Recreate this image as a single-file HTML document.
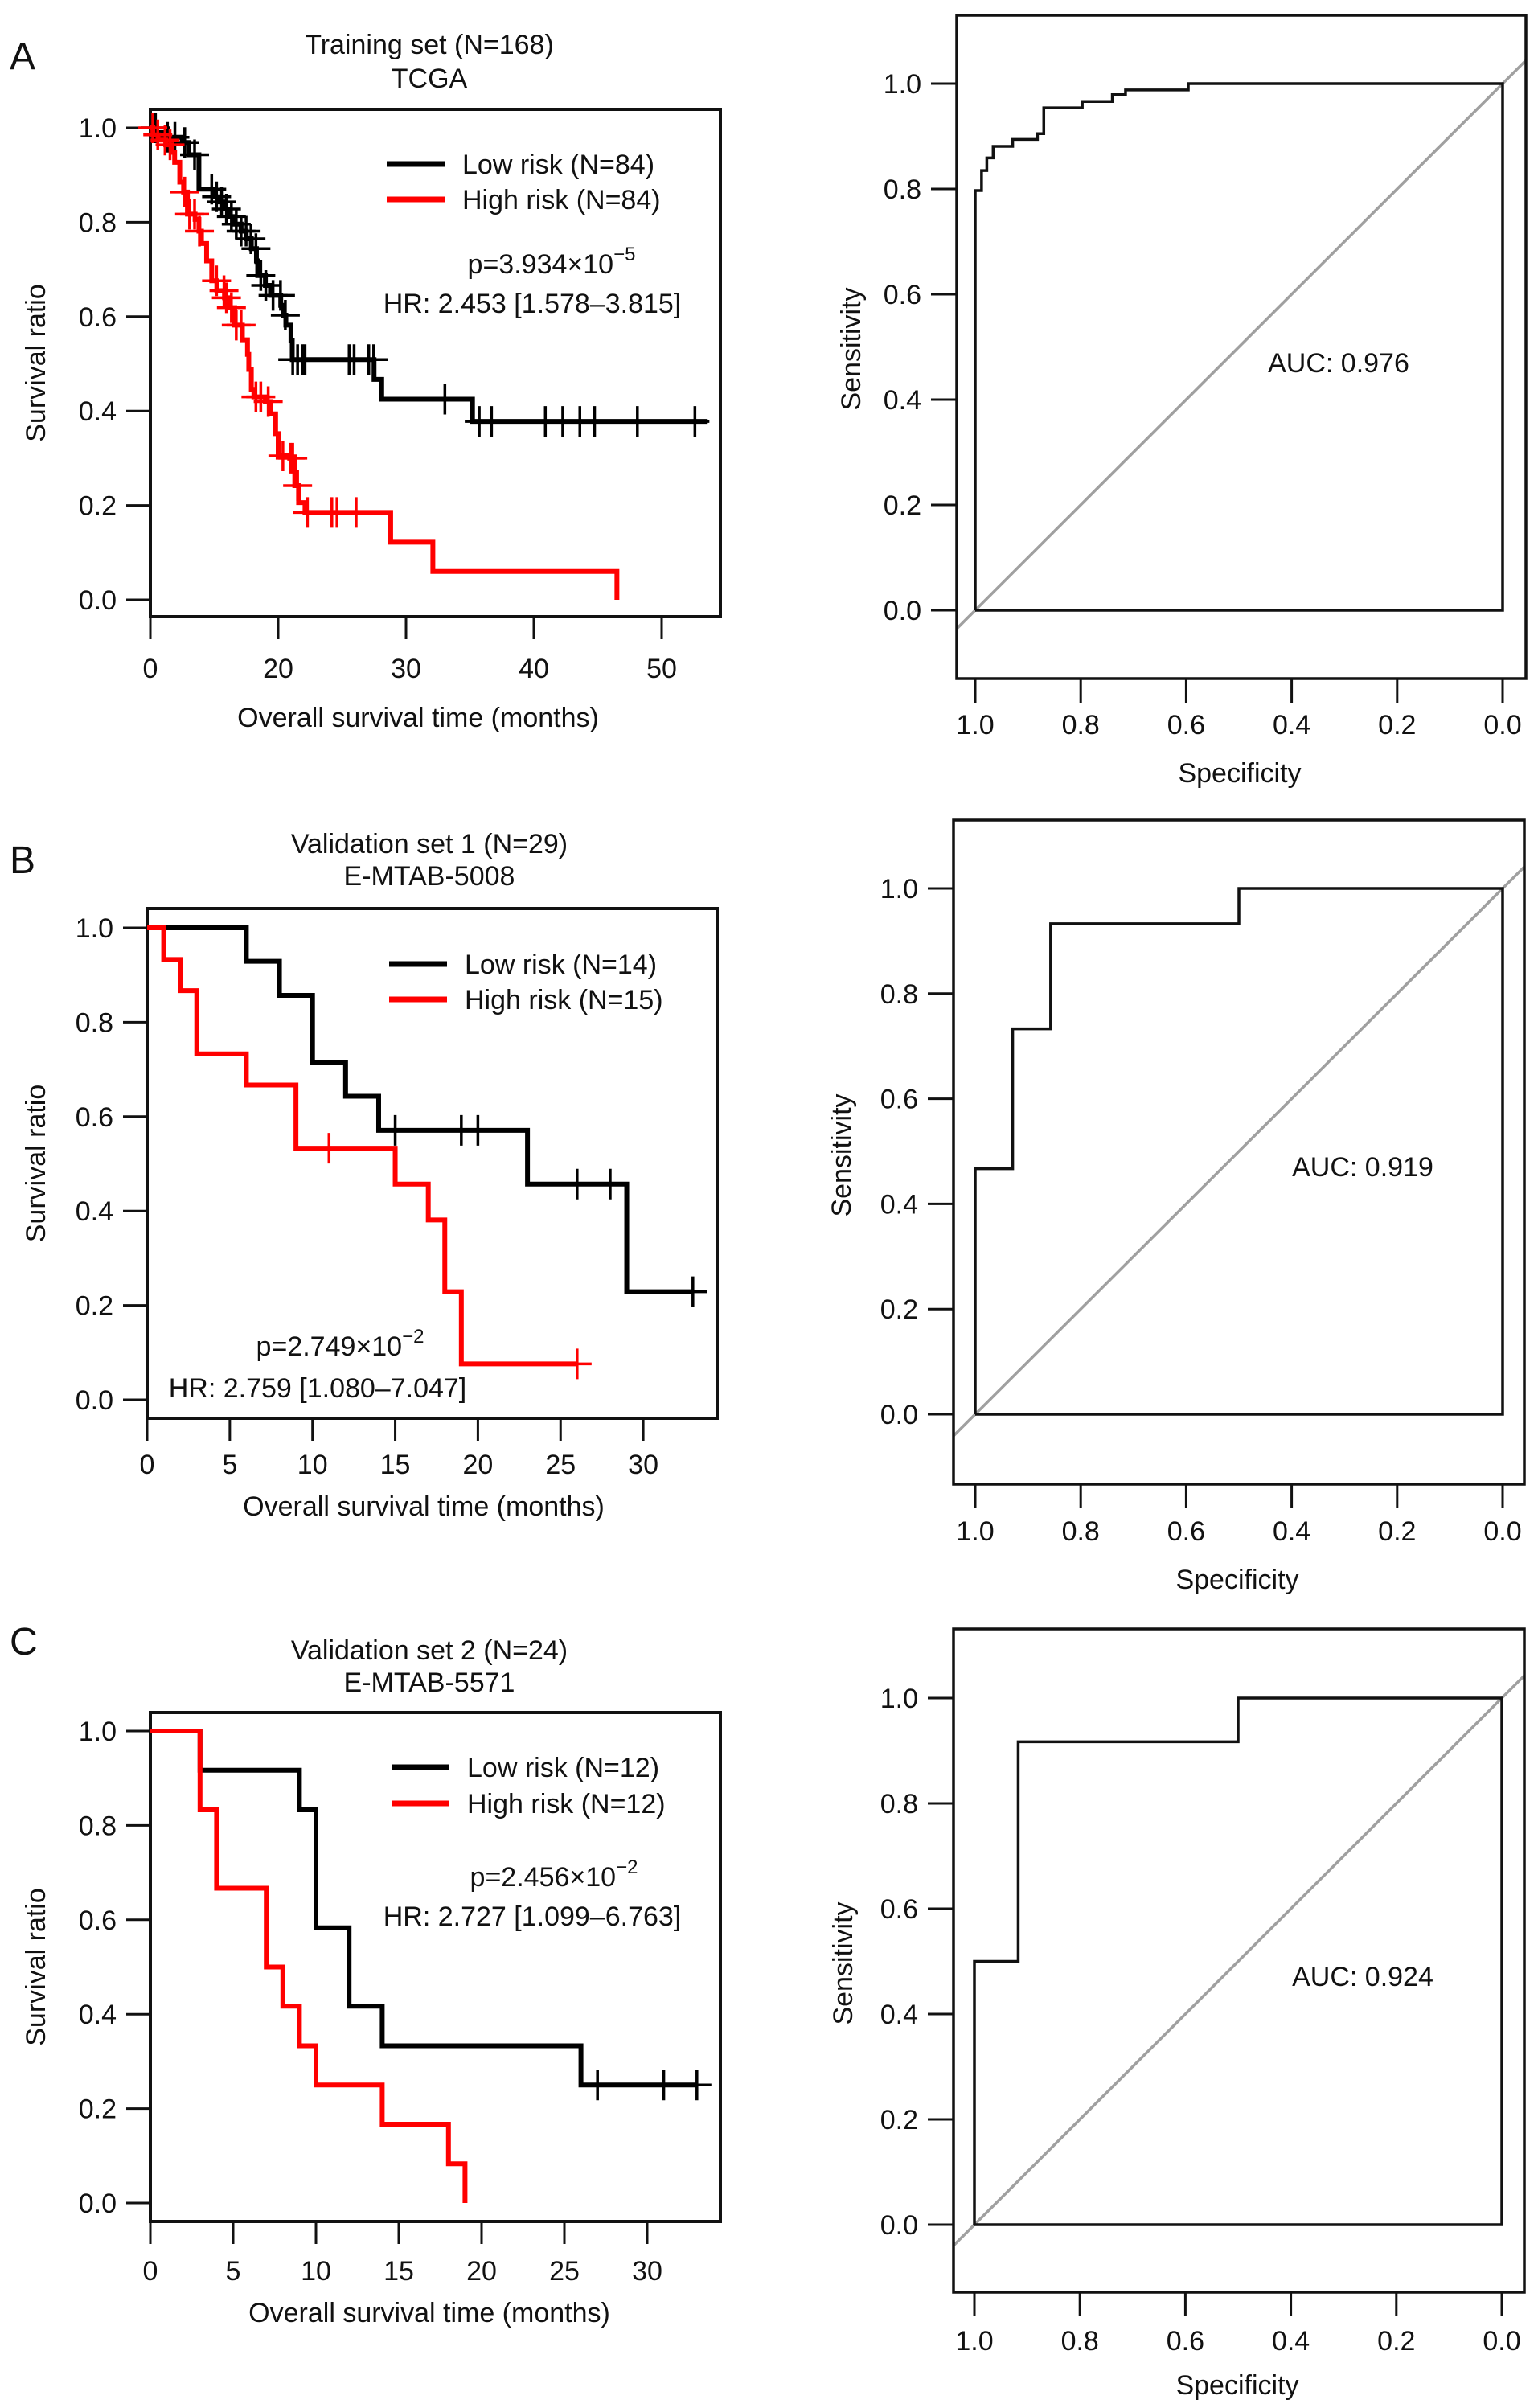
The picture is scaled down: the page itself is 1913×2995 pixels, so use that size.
<!DOCTYPE html>
<html><head><meta charset="utf-8"><style>
html,body{margin:0;padding:0;background:#fff;}
svg{display:block;font-family:"Liberation Sans",Arial,sans-serif;}
</style></head><body>
<svg id="fig" xmlns="http://www.w3.org/2000/svg" width="1913" height="2995" viewBox="0 0 1913 2995">
<rect x="0" y="0" width="1913" height="2995" fill="#fff"/>
</svg>
<script>
// ---------- Panel A KM data (time in months) ----------
const kmA_lowT=[0.5,1.2,2.5,3.0,3.8,5.0,5.4,5.8,6.2,6.5,7.1,7.5,7.9,8.3,8.4,9.0,9.4,10.2,10.4,10.6,11.0,11.1,17.5,18.1,25.2];
const kmA_lowS=[0.99,0.98,0.969,0.943,0.87,0.854,0.843,0.828,0.812,0.796,0.781,0.765,0.744,0.718,0.687,0.666,0.645,0.624,0.603,0.582,0.55,0.509,0.467,0.425,0.378];
const kmA_lowCens=[0.4,1.34,1.92,2.69,3.46,4.8,5.18,5.57,5.95,6.34,6.72,7.1,7.49,7.87,8.26,8.64,9.03,9.6,10.18,10.56,11.14,11.52,11.9,12.1,15.55,15.94,17.09,17.47,23.04,25.73,26.69,30.9,32.26,33.6,34.75,38.1,42.6];
const kmA_lowEnd=43.6;
const kmA_highT=[0.2,0.6,1.2,1.7,1.9,2.3,2.6,2.9,3.5,3.8,4.0,4.4,4.8,5.2,5.8,6.2,6.6,7.2,7.6,7.7,7.9,8.1,9.0,9.4,9.8,10.0,10.9,11.3,11.6,12.1,18.8,22.1,36.5];
const kmA_highS=[0.985,0.974,0.964,0.948,0.927,0.885,0.864,0.817,0.806,0.781,0.755,0.718,0.676,0.655,0.64,0.619,0.582,0.551,0.52,0.488,0.446,0.43,0.42,0.394,0.352,0.305,0.3,0.242,0.206,0.185,0.122,0.06,0];
const kmA_highCens=[0.19,0.58,1.15,1.54,2.69,3.07,3.46,3.84,5.18,5.76,5.95,6.34,6.72,7.1,8.26,8.64,9.22,10.37,10.94,11.14,11.52,12.29,14.2,14.6,16.1];
const kmA_highEnd=36.5;
const kmA_xTicks=[0,10,20,30,40];
const kmA_xLabels=["0","20","30","40","50"];
// ---------- Panel B KM ----------
const kmB_lowT=[6,8,10,12,14,23,29];
const kmB_lowS=[0.929,0.857,0.714,0.643,0.571,0.457,0.229];
const kmB_lowCens=[15,19,20,26,28,33];
const kmB_lowEnd=33;
const kmB_highT=[1,2,3,6,9,15,17,18,19];
const kmB_highS=[0.933,0.867,0.733,0.667,0.533,0.457,0.381,0.229,0.076];
const kmB_highCens=[11,26];
const kmB_highEnd=26;
// ---------- Panel C KM ----------
const kmC_lowT=[3,9,10,12,14,26];
const kmC_lowS=[0.917,0.833,0.583,0.417,0.333,0.25];
const kmC_lowCens=[27,31,33];
const kmC_lowEnd=33;
const kmC_highT=[3,4,7,8,9,10,14,18,19];
const kmC_highS=[0.833,0.667,0.5,0.417,0.333,0.25,0.167,0.083,0];
const kmC_highCens=[];
const kmC_highEnd=19;
const kmBC_xTicks=[0,5,10,15,20,25,30];
const kmBC_xLabels=["0","5","10","15","20","25","30"];
const km_yTicks=[0,0.2,0.4,0.6,0.8,1.0];
const km_yLabels=["0.0","0.2","0.4","0.6","0.8","1.0"];
// ---------- ROC data ----------
const rocA_spec=[1,0.988,0.978,0.966,0.929,0.882,0.870,0.797,0.740,0.715,0.596,0];
const rocA_sens=[0.797,0.835,0.859,0.881,0.894,0.905,0.954,0.966,0.979,0.988,1,1];
const rocB_spec=[1,0.929,0.857,0.5,0];
const rocB_sens=[0.467,0.733,0.933,1,1];
const rocC_spec=[1,0.917,0.5,0];
const rocC_sens=[0.5,0.917,1,1];
const roc_xTicks=[1,0.8,0.6,0.4,0.2,0];
const roc_xLabels=["1.0","0.8","0.6","0.4","0.2","0.0"];
const roc_yTicks=[0,0.2,0.4,0.6,0.8,1.0];
const roc_yLabels=["0.0","0.2","0.4","0.6","0.8","1.0"];

const NS="http://www.w3.org/2000/svg";
const svg=document.getElementById('fig');
function mk(tag,attrs,parent){const e=document.createElementNS(NS,tag);for(const k in attrs)e.setAttribute(k,attrs[k]);(parent||svg).appendChild(e);return e;}
function txt(s,x,y,size,anchor,parent){const t=mk('text',{x:x,y:y,'font-size':size,'text-anchor':anchor||'middle',fill:'#111'},parent);t.textContent=s;return t;}

function kmPanel(cfg){
  const g=mk('g',{});
  
  
  const xs=t=>cfg.x0+t*cfg.pxm;
  const ys=s=>cfg.y0-(cfg.y0-cfg.y1)*s;
  const box=mk('rect',{x:cfg.bx0,y:cfg.by0,width:cfg.bx1-cfg.bx0,height:cfg.by1-cfg.by0,fill:'none',stroke:'#111','stroke-width':4},g);
  
  
  cfg.yTicks.forEach((v,i)=>{
    const l=mk('line',{x1:cfg.bx0-30,x2:cfg.bx0,y1:ys(v),y2:ys(v),stroke:'#111','stroke-width':3},g);
    
    
    const t=txt(cfg.yLabels[i],cfg.bx0-42,ys(v)+12,34,'end',g);
    
    
  });
  cfg.xTicks.forEach((v,i)=>{
    const l=mk('line',{x1:xs(v),x2:xs(v),y1:cfg.by1,y2:cfg.by1+28,stroke:'#111','stroke-width':3},g);
    
    
    const t=txt(cfg.xLabels[i],xs(v),cfg.xlabY,34,'middle',g);
    
    
  });
  cfg.series.forEach(s=>{
    let d='M'+xs(0)+','+ys(1);let cur=1;
    s.t.forEach((t,i)=>{d+=' L'+xs(t)+','+ys(cur)+' L'+xs(t)+','+ys(s.s[i]);cur=s.s[i];});
    d+=' L'+xs(s.end)+','+ys(cur);
    const p=mk('path',{d:d,fill:'none',stroke:s.color,'stroke-width':6,'stroke-linejoin':'miter'},g);
    
    
    s.cens.forEach(c=>{
      let v=1;s.t.forEach((t,i)=>{if(t<=c)v=s.s[i];});
      const cx=xs(c),cy=ys(v);
      const m=mk('path',{d:'M'+(cx-18)+','+cy+' H'+(cx+18)+' M'+cx+','+(cy-19)+' V'+(cy+19),stroke:s.color,'stroke-width':3.5,fill:'none'},g);
      
      
    });
  });
  const lg=mk('g',{},g);
  
  
  cfg.legend.forEach(e=>{
    const l=mk('line',{x1:cfg.legX,x2:cfg.legX+72,y1:e.y,y2:e.y,stroke:e.color,'stroke-width':7},lg);
    
    
    const t=txt(e.label,cfg.legX+94,e.y+12,34,'start',lg);
    
    
  });
  const p=txt('',cfg.pX,cfg.pY,34,'middle',g);
  
  
  const ts1=mk('tspan',{},p);ts1.textContent=cfg.pText;
  const ts2=mk('tspan',{dy:-16,'font-size':24},p);ts2.textContent=cfg.pExp;
  const hr=txt(cfg.hrText,cfg.hrX,cfg.hrY,34,'middle',g);
  
  
  const t1=txt(cfg.title1,cfg.titleX,cfg.titleY1,34,'middle',g);
  
  
  const t2=txt(cfg.title2,cfg.titleX,cfg.titleY2,34,'middle',g);
  
  
  const xt=txt('Overall survival time (months)',cfg.xtX,cfg.xtY,34,'middle',g);
  
  
  const yt=txt('Survival ratio',0,0,34,'middle',g);
  yt.setAttribute('transform','translate(56,'+((cfg.by0+cfg.by1)/2)+') rotate(-90)');
  
  
  const pl=txt(cfg.letter,12,cfg.letterY,48,'start',g);
  
  
}

function rocPanel(cfg){
  const g=mk('g',{});
  
  
  const xs=sp=>cfg.x0+(cfg.x1-cfg.x0)*(1-sp);
  const ys=se=>cfg.y0-(cfg.y0-cfg.y1)*se;
  const cid='clip'+cfg.name;
  const cp=mk('clipPath',{id:cid},g);
  mk('rect',{x:cfg.bx0,y:cfg.by0,width:cfg.bx1-cfg.bx0,height:cfg.by1-cfg.by0},cp);
  const diag=mk('line',{x1:xs(1.1),y1:ys(-0.1),x2:xs(-0.1),y2:ys(1.1),stroke:'#a0a0a0','stroke-width':3.5,'clip-path':'url(#'+cid+')'},g);
  
  
  let d='M'+xs(1)+','+ys(0);
  cfg.spec.forEach((sp,i)=>{d+=' L'+xs(sp)+','+ys(cfg.sens[i]);if(i+1<cfg.spec.length)d+=' L'+xs(cfg.spec[i+1])+','+ys(cfg.sens[i]);});
  d+=' L'+xs(0)+','+ys(0)+' L'+xs(1)+','+ys(0);
  const c=mk('path',{d:d,fill:'none',stroke:'#111','stroke-width':3.5},g);
  
  
  const box=mk('rect',{x:cfg.bx0,y:cfg.by0,width:cfg.bx1-cfg.bx0,height:cfg.by1-cfg.by0,fill:'none',stroke:'#111','stroke-width':3.5},g);
  
  
  roc_yTicks.forEach((v,i)=>{
    const l=mk('line',{x1:cfg.bx0-32,x2:cfg.bx0,y1:ys(v),y2:ys(v),stroke:'#111','stroke-width':3},g);
    
    
    const t=txt(roc_yLabels[i],cfg.bx0-44,ys(v)+12,34,'end',g);
    
    
  });
  roc_xTicks.forEach((v,i)=>{
    const l=mk('line',{x1:xs(v),x2:xs(v),y1:cfg.by1,y2:cfg.by1+30,stroke:'#111','stroke-width':3},g);
    
    
    const t=txt(roc_xLabels[i],xs(v),cfg.xlabY,34,'middle',g);
    
    
  });
  const xt=txt('Specificity',(cfg.bx0+cfg.bx1)/2-2,cfg.xtY,34,'middle',g);
  
  
  const yt=txt('Sensitivity',0,0,34,'middle',g);
  yt.setAttribute('transform','translate('+(cfg.ytX)+','+cfg.ytY+') rotate(-90)');
  
  
  const a=txt(cfg.auc,cfg.aucX,cfg.aucY,34,'middle',g);
  
  
}

kmPanel({name:'km-panel-a',letter:'A',letterY:86,x0:187,pxm:15.9,y0:746,y1:159,bx0:187,bx1:896,by0:136,by1:767,
  xTicks:kmA_xTicks,xLabels:kmA_xLabels,yTicks:km_yTicks,yLabels:km_yLabels,xlabY:843,xtX:520,xtY:904,
  series:[{name:'low-risk',color:'#000',t:kmA_lowT,s:kmA_lowS,cens:kmA_lowCens,end:kmA_lowEnd},
          {name:'high-risk',color:'#ff0000',t:kmA_highT,s:kmA_highS,cens:kmA_highCens,end:kmA_highEnd}],
  legX:481,legend:[{y:204,color:'#000',label:'Low risk (N=84)'},{y:248,color:'#ff0000',label:'High risk (N=84)'}],
  pX:686,pY:340,pText:'p=3.934\u00d710',pExp:'\u22125',hrX:662,hrY:389,hrText:'HR: 2.453 [1.578\u20133.815]',
  titleX:534,titleY1:67,titleY2:109,title1:'Training set (N=168)',title2:'TCGA'});
kmPanel({name:'km-panel-b',letter:'B',letterY:1086,x0:183,pxm:20.57,y0:1741,y1:1154,bx0:183,bx1:892,by0:1130,by1:1764,
  xTicks:kmBC_xTicks,xLabels:kmBC_xLabels,yTicks:km_yTicks,yLabels:km_yLabels,xlabY:1833,xtX:527,xtY:1885,
  series:[{name:'low-risk',color:'#000',t:kmB_lowT,s:kmB_lowS,cens:kmB_lowCens,end:kmB_lowEnd},
          {name:'high-risk',color:'#ff0000',t:kmB_highT,s:kmB_highS,cens:kmB_highCens,end:kmB_highEnd}],
  legX:484,legend:[{y:1199,color:'#000',label:'Low risk (N=14)'},{y:1243,color:'#ff0000',label:'High risk (N=15)'}],
  pX:423,pY:1686,pText:'p=2.749\u00d710',pExp:'\u22122',hrX:395,hrY:1738,hrText:'HR: 2.759 [1.080\u20137.047]',
  titleX:534,titleY1:1061,titleY2:1101,title1:'Validation set 1 (N=29)',title2:'E-MTAB-5008'});
kmPanel({name:'km-panel-c',letter:'C',letterY:2058,x0:187,pxm:20.6,y0:2740,y1:2153,bx0:187,bx1:896,by0:2130,by1:2763,
  xTicks:kmBC_xTicks,xLabels:kmBC_xLabels,yTicks:km_yTicks,yLabels:km_yLabels,xlabY:2836,xtX:534,xtY:2888,
  series:[{name:'low-risk',color:'#000',t:kmC_lowT,s:kmC_lowS,cens:kmC_lowCens,end:kmC_lowEnd},
          {name:'high-risk',color:'#ff0000',t:kmC_highT,s:kmC_highS,cens:kmC_highCens,end:kmC_highEnd}],
  legX:487,legend:[{y:2198,color:'#000',label:'Low risk (N=12)'},{y:2243,color:'#ff0000',label:'High risk (N=12)'}],
  pX:689,pY:2346,pText:'p=2.456\u00d710',pExp:'\u22122',hrX:662,hrY:2395,hrText:'HR: 2.727 [1.099\u20136.763]',
  titleX:534,titleY1:2064,titleY2:2104,title1:'Validation set 2 (N=24)',title2:'E-MTAB-5571'});

rocPanel({name:'roc-panel-a',spec:rocA_spec,sens:rocA_sens,x0:1213,x1:1869,y0:759,y1:104,bx0:1190,bx1:1898,by0:19,by1:844,
  xlabY:913,xtY:973,ytX:1070,ytY:434,auc:'AUC: 0.976',aucX:1665,aucY:463});
rocPanel({name:'roc-panel-b',spec:rocB_spec,sens:rocB_sens,x0:1213,x1:1869,y0:1759,y1:1105,bx0:1186,bx1:1896,by0:1020,by1:1846,
  xlabY:1916,xtY:1976,ytX:1058,ytY:1437,auc:'AUC: 0.919',aucX:1695,aucY:1463});
rocPanel({name:'roc-panel-c',spec:rocC_spec,sens:rocC_sens,x0:1212,x1:1868,y0:2767,y1:2112,bx0:1186,bx1:1896,by0:2026,by1:2851,
  xlabY:2923,xtY:2978,ytX:1060,ytY:2442,auc:'AUC: 0.924',aucX:1695,aucY:2470});
</script>
</body></html>
